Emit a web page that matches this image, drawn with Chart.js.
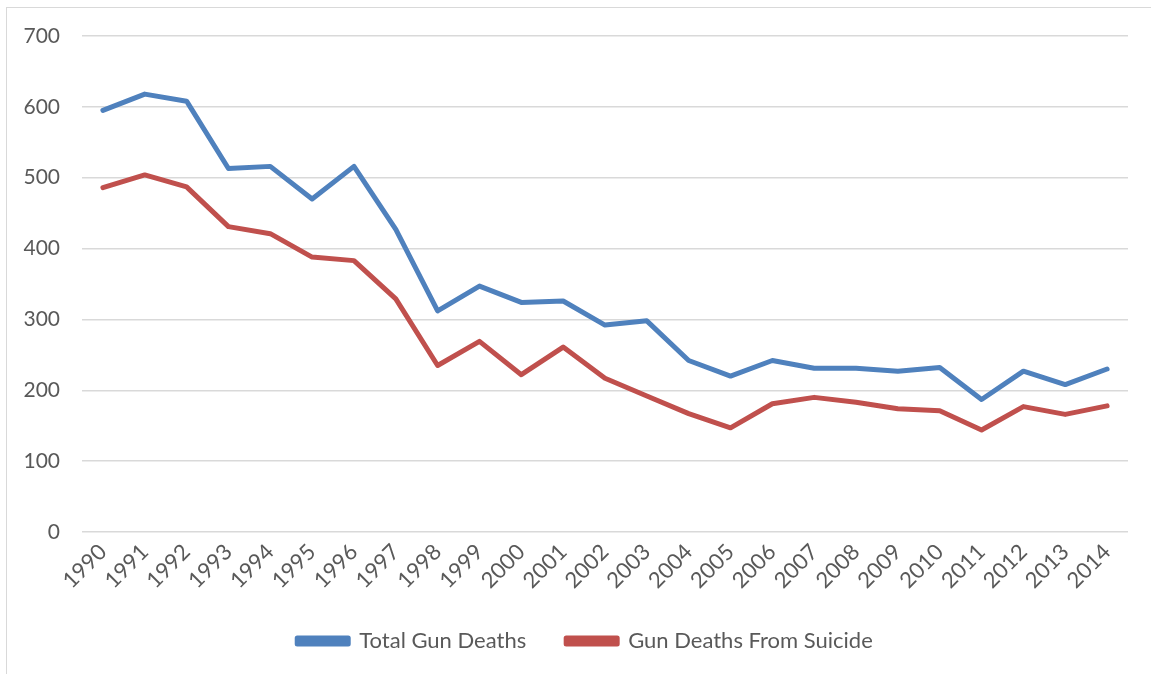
<!DOCTYPE html>
<html>
<head>
<meta charset="utf-8">
<script src="https://cdn.jsdelivr.net/npm/chart.js@4"></script>
<style>
    html, body { margin: 0; padding: 0; background: #fff; overflow: hidden; }
    #frame { position: absolute; left: 6px; top: 7px; width: 1160px; height: 680px; border: 1.5px solid #d9d9d9; }
    #wrap { position: absolute; left: 0; top: 0; width: 1151px; height: 674px; }
</style>
</head>
<body>
<div id="frame"></div>
<div id="wrap"><canvas id="gunChart"></canvas></div>
<script>
// Gun deaths chart data
const years = ["1990", "1991", "1992", "1993", "1994", "1995", "1996", "1997", "1998", "1999",
    "2000", "2001", "2002", "2003", "2004", "2005", "2006", "2007", "2008", "2009",
    "2010", "2011", "2012", "2013", "2014"];
const totalDeaths = [595, 618, 608, 513, 516, 470, 516, 427, 312, 347,
    324, 326, 292, 298, 242, 220, 242, 231, 231, 227,
    232, 187, 227, 208, 230];
const suicideDeaths = [486, 504, 487, 431, 421, 388, 383, 329, 235, 269,
    222, 261, 217, 192, 167, 147, 181, 190, 183, 174,
    171, 144, 177, 166, 178];
const yTicks = [0, 100, 200, 300, 400, 500, 600, 700];

const textColor = "#595959";
const gridColor = "#d9d9d9";

// legend in the original is centred a bit right of the canvas middle
const legendShift = {
    id: "legendShift",
    afterLayout(chart) {
        chart.legend.left += 21;
        chart.legend.right += 21;
    },
};

const ctx = document.getElementById("gunChart").getContext("2d");
new Chart(ctx, {
    type: "line",
    data: {
        labels: years,
        datasets: [
            {
                label: "Total Gun Deaths",
                data: totalDeaths,
                borderColor: "#4f81bd",
                backgroundColor: "#4f81bd",
                borderWidth: 5,
                borderJoinStyle: "round",
                borderCapStyle: "round",
                pointRadius: 0,
                tension: 0,
            },
            {
                label: "Gun Deaths From Suicide",
                data: suicideDeaths,
                borderColor: "#c0504d",
                backgroundColor: "#c0504d",
                borderWidth: 5,
                borderJoinStyle: "round",
                borderCapStyle: "round",
                pointRadius: 0,
                tension: 0,
            },
        ],
    },
    plugins: [legendShift],
    options: {
        responsive: true,
        maintainAspectRatio: false,
        animation: false,
        layout: {
            padding: { left: 0, right: 23, top: 36, bottom: 12 },
        },
        plugins: {
            tooltip: { enabled: false },
            legend: {
                position: "bottom",
                labels: {
                    boxWidth: 51,
                    boxHeight: 6,
                    padding: 40,
                    color: textColor,
                    font: { family: "Lato", size: 22 },
                },
            },
        },
        scales: {
            x: {
                offset: true,
                grid: { display: false, drawTicks: false },
                border: { display: false },
                ticks: {
                    color: textColor,
                    font: { family: "Lato", size: 22 },
                    minRotation: 45,
                    maxRotation: 45,
                    autoSkip: false,
                    padding: 7,
                },
                afterFit: (scale) => { scale.height = 58; },
            },
            y: {
                min: 0,
                max: 700,
                grid: { color: gridColor, lineWidth: 1.5, drawTicks: false },
                border: { display: false },
                afterBuildTicks: (scale) => { scale.ticks = yTicks.map((v) => ({ value: v })); },
                ticks: {
                    color: textColor,
                    font: { family: "Lato", size: 21 },
                    padding: 22,
                },
                afterFit: (scale) => { scale.width = 82; },
            },
        },
    },
});
</script>
</body>
</html>
